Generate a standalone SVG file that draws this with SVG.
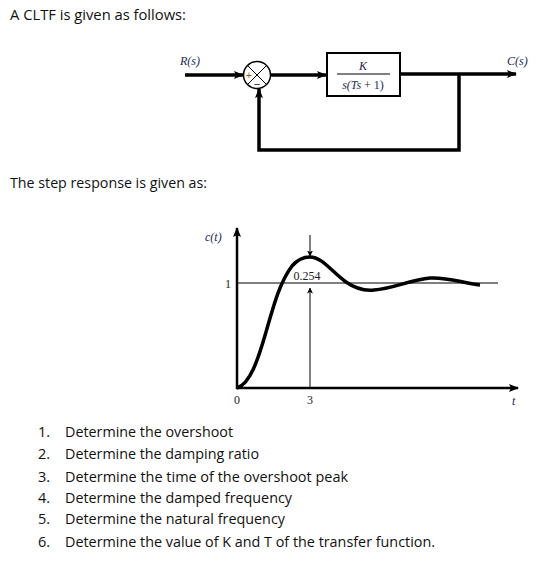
<svg xmlns="http://www.w3.org/2000/svg" width="546" height="571" viewBox="0 0 546 571">
<defs>
<style>
.txt{font-family:"Open Sans","Noto Sans",sans-serif;font-size:14.5px;fill:#111}
.m{font-family:"Liberation Serif",serif;font-style:italic;font-size:12px;fill:#1a2a55}
.n{font-family:"Liberation Serif",serif;font-size:12px;fill:#222}
.thick{stroke:#000;stroke-width:3.5;fill:none}
.thin{stroke:#000;stroke-width:1;fill:none}
</style>
<marker id="ah" markerWidth="10" markerHeight="8" refX="9" refY="4" orient="auto" markerUnits="userSpaceOnUse">
<path d="M0,0 L10,4 L0,8 L2,4 Z" fill="#000"/>
</marker>
<marker id="as" markerWidth="6" markerHeight="8" refX="5.5" refY="3" orient="auto" markerUnits="userSpaceOnUse">
<path d="M0,0 L6,3 L0,6 L1.5,3 Z" fill="#000"/>
</marker>
</defs>
<rect width="546" height="571" fill="#fff"/>

<g id="title"><text class="txt" x="10" y="20" textLength="176" lengthAdjust="spacingAndGlyphs">A CLTF is given as follows:</text></g>

<g id="connectors">
<line class="thick" x1="185" y1="75" x2="243" y2="75" marker-end="url(#ah)"/>
<line class="thick" x1="271" y1="75" x2="326" y2="75" marker-end="url(#ah)"/>
<line class="thick" x1="400" y1="74" x2="516" y2="74" marker-end="url(#ah)"/>
<polyline class="thick" points="459,74 459,150 259,150 259,89" marker-end="url(#ah)"/>
</g>

<g id="input-label"><text class="m" x="180" y="65">R(s)</text></g>
<g id="output-label"><text class="m" x="507" y="65">C(s)</text></g>

<g id="sum">
<circle cx="257" cy="75" r="13.5" fill="#fff" stroke="#000" stroke-width="1.5"/>
<line class="thin" x1="247.5" y1="65.5" x2="266.5" y2="84.5"/>
<line class="thin" x1="266.5" y1="65.5" x2="247.5" y2="84.5"/>
<text x="249" y="79" font-family="Liberation Sans,sans-serif" font-size="10" fill="#8a5a00" text-anchor="middle">+</text>
<text x="257" y="88" font-family="Liberation Sans,sans-serif" font-size="11" fill="#222" text-anchor="middle">−</text>
</g>

<g id="block">
<rect x="327" y="53" width="73" height="43" fill="#fff" stroke="#000" stroke-width="2"/>
<text class="m" x="363" y="70" text-anchor="middle">K</text>
<line x1="337" y1="74" x2="390" y2="74" stroke="#000" stroke-width="1"/>
<text class="m" x="363" y="89" text-anchor="middle">s(Ts <tspan font-style="normal">+ 1)</tspan></text>
</g>

<g id="subtitle"><text class="txt" x="10" y="188" textLength="197" lengthAdjust="spacingAndGlyphs">The step response is given as:</text></g>

<g id="plot">
<line x1="237" y1="389" x2="237" y2="228" stroke="#000" stroke-width="2.5" marker-end="url(#ah)"/>
<line x1="236" y1="388" x2="518" y2="388" stroke="#000" stroke-width="2.5" marker-end="url(#ah)"/>
<line class="thin" x1="237" y1="283" x2="498" y2="283"/>
<line class="thin" x1="310" y1="388" x2="310" y2="288" marker-end="url(#as)"/>
<line class="thin" x1="310" y1="235" x2="310" y2="256" marker-end="url(#as)"/>
<path class="thick" stroke-width="3" d="M237,388 C250,384 258,360 266,332 C274,304 280,282 292,266 C298,259 304,257 310,257 C322,257 332,272 346,282 C356,289 364,291 374,290 C392,289 410,280 430,278 C448,277 462,283 480,285"/>
<text class="m" x="205" y="241" font-size="11">c(t)</text>
<text class="n" x="225" y="288">1</text>
<text class="n" x="307" y="280" text-anchor="middle">0.254</text>
<text class="n" x="237" y="404" text-anchor="middle">0</text>
<text class="n" x="310" y="404" text-anchor="middle">3</text>
<text class="m" x="512" y="405">t</text>
</g>

<g id="questions">
<text class="txt" x="38" y="437">1.</text><text class="txt" x="65" y="437" textLength="168" lengthAdjust="spacingAndGlyphs">Determine the overshoot</text>
<text class="txt" x="38" y="459">2.</text><text class="txt" x="65" y="459" textLength="194" lengthAdjust="spacingAndGlyphs">Determine the damping ratio</text>
<text class="txt" x="38" y="482">3.</text><text class="txt" x="65" y="482" textLength="283" lengthAdjust="spacingAndGlyphs">Determine the time of the overshoot peak</text>
<text class="txt" x="38" y="503">4.</text><text class="txt" x="65" y="503" textLength="227" lengthAdjust="spacingAndGlyphs">Determine the damped frequency</text>
<text class="txt" x="38" y="524">5.</text><text class="txt" x="65" y="524" textLength="220" lengthAdjust="spacingAndGlyphs">Determine the natural frequency</text>
<text class="txt" x="38" y="547">6.</text><text class="txt" x="65" y="547" textLength="370" lengthAdjust="spacingAndGlyphs">Determine the value of K and T of the transfer function.</text>
</g>
</svg>
